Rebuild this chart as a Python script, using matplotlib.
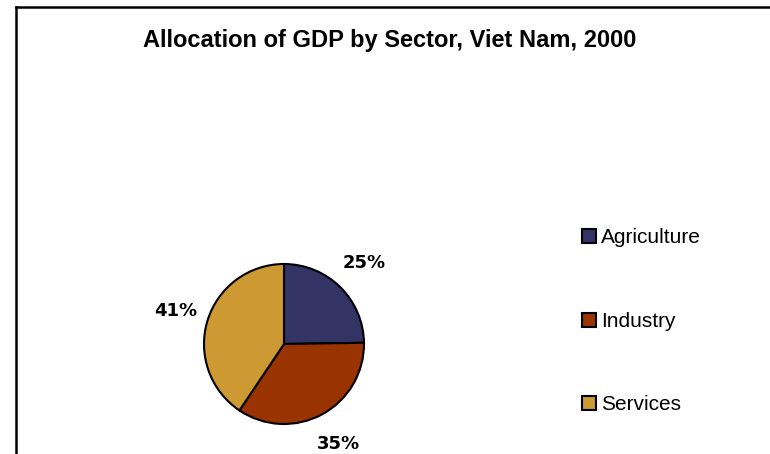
import matplotlib.pyplot as plt
from matplotlib.lines import Line2D
from matplotlib.patches import Patch

sectors = ["Agriculture", "Industry", "Services"]
shares = [25, 35, 41]
colors = ["#333366", "#993300", "#CC9933"]

W, H = 770, 454
fig = plt.figure(figsize=(W / 100, H / 100), dpi=100)

# frame lines (left + top)
fig.add_artist(Line2D([16 / W, 16 / W], [0, 1 - 7 / H], color="black", lw=1.8))
fig.add_artist(Line2D([16 / W, 1], [1 - 7 / H, 1 - 7 / H], color="black", lw=1.8))

fig.text(390 / W, 1 - 40 / H, "Allocation of GDP by Sector, Viet Nam, 2000",
         ha="center", va="center", fontsize=17, fontweight="bold",
         family="Liberation Sans")

cx, cy, r = 284, 344, 80
ax = fig.add_axes([(cx - r) / W, (H - cy - r) / H, 2 * r / W, 2 * r / H])
wedges, texts, autotexts = ax.pie(
    shares, colors=colors, startangle=90, counterclock=False,
    autopct="%.0f%%", pctdistance=1.42,
    wedgeprops=dict(edgecolor="black", linewidth=1.5),
    textprops=dict(fontsize=13, fontweight="bold", family="DejaVu Sans"))
ax.set_xlim(-1, 1)
ax.set_ylim(-1, 1)
ax.set_aspect("equal")

handles = [Patch(facecolor=c, edgecolor="black", lw=1.5) for c in colors]
fig.legend(handles, sectors, loc="upper left",
           bbox_to_anchor=(574 / W, 1 - 220 / H), frameon=False,
           prop=dict(family="Liberation Sans", size=15),
           handlelength=0.65, handleheight=0.65, handletextpad=0.25,
           labelspacing=3.1, borderaxespad=0)

fig.savefig("out.png", dpi=100)
